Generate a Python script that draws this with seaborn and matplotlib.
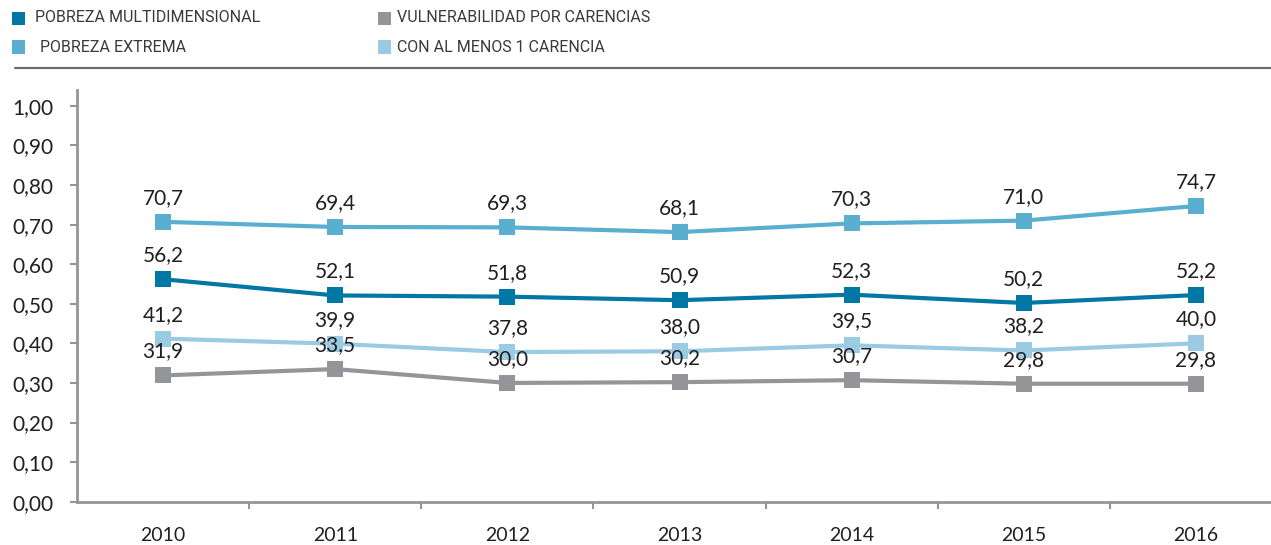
import pandas as pd
import seaborn as sns
import matplotlib.pyplot as plt
from matplotlib.patches import Rectangle
from matplotlib.lines import Line2D

years = [2010, 2011, 2012, 2013, 2014, 2015, 2016]
series_names = ['POBREZA MULTIDIMENSIONAL', 'POBREZA EXTREMA',
                'VULNERABILIDAD POR CARENCIAS', 'CON AL MENOS 1 CARENCIA']
pobreza_multi = [0.562, 0.521, 0.518, 0.509, 0.523, 0.502, 0.522]
pobreza_extrema = [0.707, 0.694, 0.693, 0.681, 0.703, 0.710, 0.747]
vulnerabilidad = [0.319, 0.335, 0.300, 0.302, 0.307, 0.298, 0.298]
al_menos_1 = [0.412, 0.399, 0.378, 0.380, 0.395, 0.382, 0.400]
yticks = [0.0, 0.1, 0.2, 0.3, 0.4, 0.5, 0.6, 0.7, 0.8, 0.9, 1.0]

colors = {
    'POBREZA MULTIDIMENSIONAL': '#0077a4',
    'POBREZA EXTREMA': '#5aaecf',
    'VULNERABILIDAD POR CARENCIAS': '#939598',
    'CON AL MENOS 1 CARENCIA': '#9bcbe3',
}
text_color = '#231f20'
axis_color = '#939598'


def make_df():
    rows = []
    for name, vals in zip(series_names, [pobreza_multi, pobreza_extrema, vulnerabilidad, al_menos_1]):
        for y, v in zip(years, vals):
            rows.append({'year': y, 'valor': v, 'serie': name})
    return pd.DataFrame(rows)


df = make_df()

sns.set_style('white')
plt.rcParams['font.family'] = ['Lato', 'DejaVu Sans']

fig = plt.figure(figsize=(12.71, 5.45), dpi=100)
ax = fig.add_axes([77 / 1271, 43.3 / 545, (1271 - 77) / 1271, 411.7 / 545])

sns.lineplot(data=df, x='year', y='valor', hue='serie', palette=colors,
             hue_order=series_names, marker='s', markersize=11.5,
             markeredgewidth=0, linewidth=3, legend=False, sort=False, ax=ax)

# data labels above the markers
for _, r in df.iterrows():
    ax.annotate(f"{r['valor'] * 100:.1f}".replace('.', ','), (r['year'], r['valor']),
                xytext=(0, 10), textcoords='offset points', ha='center', va='bottom',
                fontsize=15, color=text_color)

ax.set_xlim(2009.5, 2016.436)
ax.set_ylim(0, 1.04)
ax.set_yticks(yticks)
ax.set_yticklabels([f"{t:.2f}".replace('.', ',') for t in yticks])
ax.set_xticks(years)
ax.set_xticks([y + 0.5 for y in years[:-1]], minor=True)
ax.set_xlabel('')
ax.set_ylabel('')

for s in ['top', 'right']:
    ax.spines[s].set_visible(False)
for s in ['left', 'bottom']:
    ax.spines[s].set_color(axis_color)
    ax.spines[s].set_linewidth(2)

ax.tick_params(axis='y', which='major', direction='out', length=5, width=1.5,
               color=axis_color, pad=12, labelsize=15, labelcolor=text_color, left=True)
ax.tick_params(axis='x', which='major', length=0, pad=18, labelsize=14, labelcolor=text_color)
ax.tick_params(axis='x', which='minor', direction='out', length=5, width=1.5,
               color=axis_color, bottom=True)

# legend at the top, two columns
leg_font = ['Roboto', 'DejaVu Sans']
leg_pos = [(12, 18, 35), (12, 47, 40), (378, 18, 397), (378, 47, 397)]
for name, (sx, cy, tx) in zip(series_names, leg_pos):
    fig.patches.append(Rectangle((sx / 1271, 1 - (cy + 6.5) / 545), 13 / 1271, 13 / 545,
                                 transform=fig.transFigure, color=colors[name], lw=0))
    fig.text(tx / 1271, 1 - cy / 545, name, ha='left', va='center',
             fontsize=11.5, color='#3a3a3a', family=leg_font)

fig.lines.append(Line2D([15 / 1271, 1], [1 - 67.5 / 545, 1 - 67.5 / 545],
                        transform=fig.transFigure, color='#6d6e71', lw=1.6))

fig.savefig('out.png', dpi=100)
